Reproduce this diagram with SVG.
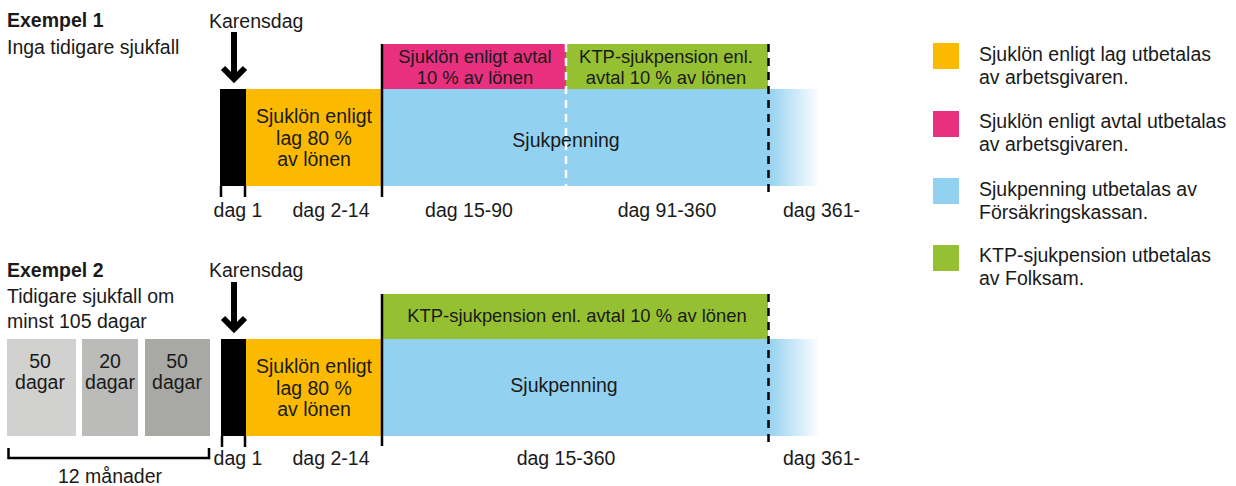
<svg xmlns="http://www.w3.org/2000/svg" width="1236" height="486" viewBox="0 0 1236 486">
<defs>
<style>
text{font-family:"Liberation Sans",Arial,Helvetica,sans-serif;fill:#1a1a1a;font-size:19.5px}
.b{font-weight:bold}
.c{text-anchor:middle}
.s{font-size:18.4px}
.or{fill:#fbba00}
.pk{fill:#e9307f}
.gr{fill:#95c031}
.bl{fill:#93d1f1}
.blk{fill:#000}
.sol{stroke:#000;stroke-width:2.5;fill:none}
.dsh{stroke:#000;stroke-width:2.5;stroke-dasharray:8 6;fill:none}
.wdsh{stroke:#fff;stroke-width:2.5;stroke-dasharray:8 6;fill:none}
.arr{stroke:#000;stroke-width:6;fill:none;stroke-linejoin:miter}
</style>
<linearGradient id="fade" x1="0" y1="0" x2="1" y2="0">
<stop offset="0" stop-color="#93d1f1"/>
<stop offset="1" stop-color="#93d1f1" stop-opacity="0"/>
</linearGradient>
</defs>
<rect width="1236" height="486" fill="#fff"/>

<!-- Example 1 -->
<g id="ex1-title">
<text x="7" y="27" class="b">Exempel 1</text>
<text x="7" y="54">Inga tidigare sjukfall</text>
</g>
<g id="ex1-karensdag">
<text x="209" y="28">Karensdag</text>
<rect x="220" y="89" width="26" height="97" class="blk"/>
</g>
<g id="ex1-sjuklon-lag">
<rect x="246" y="89" width="136" height="97" class="or"/>
<text x="314" y="123" class="c">Sjuklön enligt</text>
<text x="314" y="145" class="c">lag 80 %</text>
<text x="314" y="166" class="c">av lönen</text>
</g>
<g id="ex1-sjuklon-avtal">
<rect x="382" y="44" width="184" height="45" class="pk"/>
<text x="475" y="63" class="c s">Sjuklön enligt avtal</text>
<text x="475" y="84" class="c s">10 % av lönen</text>
</g>
<g id="ex1-ktp">
<rect x="566" y="44" width="202" height="45" class="gr"/>
<text x="666" y="63" class="c s">KTP-sjukpension enl.</text>
<text x="666" y="84" class="c s">avtal 10 % av lönen</text>
</g>
<g id="ex1-sjukpenning">
<rect x="382" y="89" width="386" height="97" class="bl"/>
<rect x="768" y="89" width="52" height="97" fill="url(#fade)"/>
<text x="566" y="147" class="c">Sjukpenning</text>
</g>
<g id="ex1-labels">
<text x="238" y="217" class="c">dag 1</text>
<text x="331" y="217" class="c">dag 2-14</text>
<text x="469" y="217" class="c">dag 15-90</text>
<text x="667" y="217" class="c">dag 91-360</text>
<text x="783" y="217">dag 361-</text>
</g>

<!-- Example 2 -->
<g id="ex2-title">
<text x="7" y="277" class="b">Exempel 2</text>
<text x="7" y="303">Tidigare sjukfall om</text>
<text x="7" y="328">minst 105 dagar</text>
</g>
<g id="ex2-prev1">
<rect x="7" y="339" width="69" height="97" fill="#d1d1d0"/>
<text x="40" y="368" class="c">50</text>
<text x="40" y="389" class="c">dagar</text>
</g>
<g id="ex2-prev2">
<rect x="82" y="339" width="56" height="97" fill="#bbbbba"/>
<text x="110" y="368" class="c">20</text>
<text x="110" y="389" class="c">dagar</text>
</g>
<g id="ex2-prev3">
<rect x="145" y="339" width="65" height="97" fill="#a8a8a4"/>
<text x="177" y="368" class="c">50</text>
<text x="177" y="389" class="c">dagar</text>
</g>
<g id="ex2-period">
<path d="M8.5 448 V458 H209 V448" class="sol"/>
<text x="110" y="483" class="c">12 månader</text>
</g>
<g id="ex2-karensdag">
<text x="209" y="277">Karensdag</text>
<rect x="221" y="339" width="25" height="97" class="blk"/>
</g>
<g id="ex2-sjuklon-lag">
<rect x="246" y="339" width="136" height="97" class="or"/>
<text x="314" y="373" class="c">Sjuklön enligt</text>
<text x="314" y="395" class="c">lag 80 %</text>
<text x="314" y="416" class="c">av lönen</text>
</g>
<g id="ex2-ktp">
<rect x="382" y="294" width="386" height="45" class="gr"/>
<text x="577" y="322" class="c s">KTP-sjukpension enl. avtal 10 % av lönen</text>
</g>
<g id="ex2-sjukpenning">
<rect x="382" y="339" width="386" height="97" class="bl"/>
<rect x="768" y="339" width="52" height="97" fill="url(#fade)"/>
<text x="564" y="392" class="c">Sjukpenning</text>
</g>
<g id="ex2-labels">
<text x="238" y="465" class="c">dag 1</text>
<text x="331" y="465" class="c">dag 2-14</text>
<text x="566" y="465" class="c">dag 15-360</text>
<text x="783" y="465">dag 361-</text>
</g>

<!-- Connectors / markers -->
<g id="connectors">
<path d="M234 32 V77 M223 68 L234 79 L245 68" class="arr"/>
<path d="M234 282 V327 M223 318 L234 329 L245 318" class="arr"/>
<path d="M221 186 V197 M245 186 V197" class="sol"/>
<path d="M382 44 V197" class="sol"/>
<path d="M566 44 V186" class="wdsh"/>
<path d="M768.5 44 V197" class="dsh"/>
<path d="M222 436 V447 M245 436 V447" class="sol"/>
<path d="M382 294 V446" class="sol"/>
<path d="M768.5 294 V446" class="dsh"/>
</g>

<!-- Legend -->
<g id="legend-lag">
<rect x="933" y="43" width="26" height="26" class="or"/>
<text x="979" y="61">Sjuklön enligt lag utbetalas</text>
<text x="979" y="84">av arbetsgivaren.</text>
</g>
<g id="legend-avtal">
<rect x="933" y="111" width="26" height="26" class="pk"/>
<text x="979" y="128">Sjuklön enligt avtal utbetalas</text>
<text x="979" y="151">av arbetsgivaren.</text>
</g>
<g id="legend-sjukpenning">
<rect x="933" y="178" width="26" height="26" class="bl"/>
<text x="979" y="196">Sjukpenning utbetalas av</text>
<text x="979" y="219">Försäkringskassan.</text>
</g>
<g id="legend-ktp">
<rect x="933" y="245" width="26" height="26" class="gr"/>
<text x="979" y="262">KTP-sjukpension utbetalas</text>
<text x="979" y="285">av Folksam.</text>
</g>
</svg>
